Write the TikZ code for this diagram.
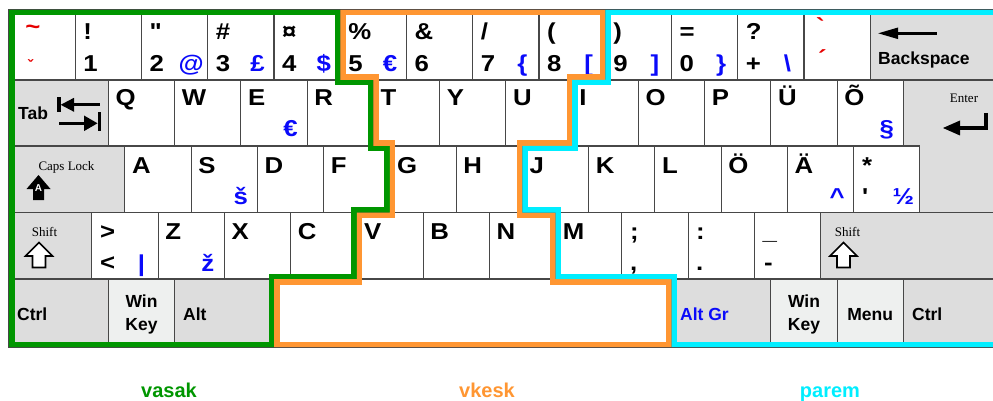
\documentclass[tikz,border=0pt]{standalone}
\usepackage{fontspec}
\setmainfont{Liberation Sans}
\newfontfamily\keyfam{Liberation Sans}[FakeStretch=1.12]
\newfontfamily\serfam{Liberation Serif}
\newcommand\keyfont{\keyfam\bfseries\fontsize{23}{23}\selectfont}
\newcommand\modfont{\bfseries\fontsize{17.5}{18}\selectfont}
\newcommand\serfont{\serfam\fontsize{13}{13}\selectfont}
\newcommand\regfont{\bfseries\fontsize{20}{20}\selectfont}
\definecolor{kgray}{RGB}{221,221,221}
\definecolor{klight}{RGB}{238,240,239}
\definecolor{altblue}{RGB}{10,10,250}
\definecolor{deadred}{RGB}{230,0,0}
\definecolor{vgreen}{RGB}{0,150,0}
\definecolor{vorange}{RGB}{255,150,50}
\definecolor{vcyan}{RGB}{0,238,255}
\begin{document}
\begin{tikzpicture}[x=1pt,y=-1pt,
  keyedge/.style={draw=black!72,line width=1.1pt},
  up/.style={inner sep=0pt,font=\keyfont,anchor=base west},
  alt/.style={inner sep=0pt,font=\keyfont,text=altblue,anchor=base},
  dead/.style={inner sep=0pt,font=\keyfont,text=deadred,anchor=center},
  mod/.style={inner sep=0pt,font=\modfont,anchor=base west},
  modc/.style={inner sep=0pt,font=\modfont,anchor=base},
  ser/.style={inner sep=0pt,font=\serfont,anchor=base},
  region/.style={inner sep=0pt,font=\regfont,anchor=base},
  icon/.style={line width=3.4pt,line cap=butt},
  hollow/.style={draw=black,line width=1.6pt,fill=white,line join=miter}]
\useasboundingbox (0,0) rectangle (993,401);
\fill[white] (0,0) rectangle (993,401);

% ---------- keys ----------
% row 1
\foreach \i in {0,...,12}
  \draw[keyedge,fill=white] ({9+66.25*\i},10) rectangle ({9+66.25*(\i+1)},80);
\draw[keyedge,fill=kgray] (870.25,10) rectangle (1005,80);
% row 2
\draw[keyedge,fill=kgray] (9,80) rectangle (108.4,146);
\foreach \i in {0,...,11}
  \draw[keyedge,fill=white] ({108.4+66.25*\i},80) rectangle ({108.4+66.25*(\i+1)},146);
\draw[keyedge,fill=kgray] (903.4,80) -- (1005,80) -- (1005,212.5) -- (919.9,212.5) -- (919.9,146) -- (903.4,146) -- cycle;
% row 3
\draw[keyedge,fill=kgray] (9,146) rectangle (124.9,212.5);
\foreach \i in {0,...,11}
  \draw[keyedge,fill=white] ({124.9+66.25*\i},146) rectangle ({124.9+66.25*(\i+1)},212.5);
% row 4
\draw[keyedge,fill=kgray] (9,212.5) rectangle (91.8,279);
\foreach \i in {0,...,10}
  \draw[keyedge,fill=white] ({91.8+66.25*\i},212.5) rectangle ({91.8+66.25*(\i+1)},279);
\draw[keyedge,fill=kgray] (820.55,212.5) rectangle (1005,279);
% row 5
\draw[keyedge,fill=kgray] (9,279) rectangle (108.4,347);
\draw[keyedge,fill=klight] (108.4,279) rectangle (174.6,347);
\draw[keyedge,fill=kgray] (174.6,279) rectangle (274,347);
\draw[keyedge,fill=white] (274,279) rectangle (671.5,347);
\draw[keyedge,fill=kgray] (671.5,279) rectangle (770.9,347);
\draw[keyedge,fill=klight] (770.9,279) rectangle (837.1,347);
\draw[keyedge,fill=klight] (837.1,279) rectangle (903.4,347);
\draw[keyedge,fill=kgray] (903.4,279) rectangle (1005,347);

% ---------- row 1 labels ----------
\node[dead] (tilde) at (33,30) {\textasciitilde};
\node[dead,font=\bfseries\fontsize{16}{16}\selectfont] (caron) at (30.5,66) {ˇ};
\node[up] (excl) at (83.25,40) {!};      \node[up] (one) at (83.25,72) {1};
\node[up] (quot) at (149.5,40) {"};      \node[up] (two) at (149.5,72) {2};   \node[alt] (at) at (191.25,72) {@};
\node[up] (hash) at (215.75,40) {\#};    \node[up] (three) at (215.75,72) {3}; \node[alt] (pound) at (257.5,72) {£};
\node[up] (curr) at (282,40) {¤};        \node[up] (four) at (282,72) {4};    \node[alt] (dollar) at (323.75,72) {\$};
\node[up] (perc) at (348.25,40) {\%};    \node[up] (five) at (348.25,72) {5}; \node[alt] (euro) at (390,72) {€};
\node[up] (amp) at (414.5,40) {\&};      \node[up] (six) at (414.5,72) {6};
\node[up] (slash) at (480.75,40) {/};    \node[up] (seven) at (480.75,72) {7}; \node[alt] (lbrace) at (522.5,72) {\{};
\node[up] (lpar) at (547,40) {(};        \node[up] (eight) at (547,72) {8};   \node[alt] (lbrack) at (588.75,72) {[};
\node[up] (rpar) at (613.25,40) {)};     \node[up] (nine) at (613.25,72) {9}; \node[alt] (rbrack) at (655,72) {]};
\node[up] (equal) at (679.5,40) {=};     \node[up] (zero) at (679.5,72) {0};  \node[alt] (rbrace) at (721.25,72) {\}};
\node[up] (quest) at (745.75,40) {?};    \node[up] (plus) at (745.75,72) {+}; \node[alt] (bslash) at (787.5,72) {\textbackslash};
\node[dead] (grave) at (820,26) {\textasciigrave};
\node[dead] (acute) at (822.5,58) {´};
\node[mod] (bksp) at (878,65) {Backspace};
\fill (878.3,33.3) -- (898,27.5) -- (898,39.1) -- cycle;
\draw[icon] (897,33.3) -- (936.7,33.3);

% ---------- row 2 labels ----------
\node[mod] (tab) at (18,120) {Tab};
\fill (57.3,96.7) rectangle (60.7,112);
\fill (60.7,104.8) -- (74,97.8) -- (74,111.8) -- cycle;
\draw[icon] (73,104.8) -- (100,104.8);
\draw[icon] (59.3,123.3) -- (85,123.3);
\fill (84,115.5) -- (97.5,123.3) -- (84,131.1) -- cycle;
\fill (97.5,112) rectangle (101.2,131.5);
\node[up] (kQ) at (115.4,106) {Q};
\node[up] (kW) at (181.6,106) {W};
\node[up] (kE) at (247.9,106) {E};  \node[alt] (keuro) at (290.6,137) {€};
\node[up] (kR) at (314.1,106) {R};
\node[up] (kT) at (380.4,106) {T};
\node[up] (kY) at (446.6,106) {Y};
\node[up] (kU) at (512.9,106) {U};
\node[up] (kI) at (579.1,106) {I};
\node[up] (kO) at (645.4,106) {O};
\node[up] (kP) at (711.6,106) {P};
\node[up] (kUe) at (777.9,106) {Ü};
\node[up] (kOt) at (844.1,106) {Õ};  \node[alt] (sect) at (886.9,137) {§};
\node[ser] (enter) at (964,103) {Enter};
\draw[icon,line join=miter] (986,113) -- (986,128) -- (959,128);
\fill (943,128) -- (960,120.5) -- (960,135.5) -- cycle;

% ---------- row 3 labels ----------
\node[ser] (caps) at (66.5,171) {Caps Lock};
\fill (38.5,175) -- (50.5,189) -- (44,189) -- (44,200) -- (33,200) -- (33,189) -- (26.5,189) -- cycle;
\node[inner sep=0pt,text=white,font=\bfseries\fontsize{10}{10}\selectfont] (capsA) at (38.5,188) {A};
\node[up] (kA) at (131.9,173) {A};
\node[up] (kS) at (198.2,173) {S};  \node[alt] (scaron) at (240.9,204) {š};
\node[up] (kD) at (264.4,173) {D};
\node[up] (kF) at (330.7,173) {F};
\node[up] (kG) at (396.9,173) {G};
\node[up] (kH) at (463.2,173) {H};
\node[up] (kJ) at (529.4,173) {J};
\node[up] (kK) at (595.7,173) {K};
\node[up] (kL) at (661.9,173) {L};
\node[up] (kOe) at (728.2,173) {Ö};
\node[up] (kAe) at (794.4,173) {Ä};  \node[alt] (circ) at (837.2,204) {\textasciicircum};
\node[up] (ast) at (862,173) {*};
\node[up] (apos) at (862,204) {\textquotesingle};
\node[alt] (half) at (903.4,204) {½};

% ---------- row 4 labels ----------
\node[ser] (lshift) at (44.5,236) {Shift};
\draw[hollow] (39,242.5) -- (52.5,256) -- (45.5,256) -- (45.5,267.5) -- (32.5,267.5) -- (32.5,256) -- (25.5,256) -- cycle;
\node[up] (gt) at (99.8,239) {>};
\node[up] (lt) at (99.8,270) {<};    \node[alt] (bar) at (141.6,271) {|};
\node[up] (kZ) at (165.1,239) {Z};   \node[alt] (zcaron) at (207.9,271) {ž};
\node[up] (kX) at (231.4,239) {X};
\node[up] (kC) at (297.6,239) {C};
\node[up] (kV) at (363.9,239) {V};
\node[up] (kB) at (430.1,239) {B};
\node[up] (kN) at (496.4,239) {N};
\node[up] (kM) at (562.6,239) {M};
\node[up] (semi) at (630,239) {;};    \node[up] (comma) at (630,270) {,};
\node[up] (colon) at (696,239) {:};   \node[up] (period) at (696,270) {.};
\node[up] (under) at (762.4,239) {\_}; \node[up] (minus) at (764,270) {-};
\node[ser] (rshift) at (847.5,236) {Shift};
\draw[hollow] (843.5,242.5) -- (857,256) -- (850,256) -- (850,267.5) -- (837,267.5) -- (837,256) -- (830,256) -- cycle;

% ---------- row 5 labels ----------
\node[mod] (lctrl) at (17,320) {Ctrl};
\node[modc] (lwin1) at (141.5,307) {Win};
\node[modc] (lwin2) at (141.5,330) {Key};
\node[mod] (lalt) at (183,320) {Alt};
\node[mod,text=altblue] (altgr) at (680,320) {Alt Gr};
\node[modc] (rwin1) at (804,307) {Win};
\node[modc] (rwin2) at (804,330) {Key};
\node[modc] (menu) at (870.25,320) {Menu};
\node[mod] (rctrl) at (912,320) {Ctrl};

% ---------- region outlines ----------
\def\greenpath{(9,10) -- (340.25,10) -- (340.25,80) -- (373.4,80) -- (373.4,146) -- (389.9,146) -- (389.9,212.5) -- (356.9,212.5) -- (356.9,279) -- (274,279) -- (274,347) -- (9,347) -- cycle}
\def\orangepath{(340.25,10) -- (605.25,10) -- (605.25,80) -- (572.1,80) -- (572.1,146) -- (522.4,146) -- (522.4,212.5) -- (555.6,212.5) -- (555.6,279) -- (671.5,279) -- (671.5,347) -- (274,347) -- (274,279) -- (356.9,279) -- (356.9,212.5) -- (389.9,212.5) -- (389.9,146) -- (373.4,146) -- (373.4,80) -- (340.25,80) -- cycle}
\def\cyanpath{(605.25,10) -- (1015,10) -- (1015,347) -- (671.5,347) -- (671.5,279) -- (555.6,279) -- (555.6,212.5) -- (522.4,212.5) -- (522.4,146) -- (572.1,146) -- (572.1,80) -- (605.25,80) -- cycle}
\begin{scope}
  \clip \greenpath;
  \draw[vgreen,line width=11pt] \greenpath;
\end{scope}
\begin{scope}
  \clip \orangepath;
  \draw[vorange,line width=11pt] \orangepath;
\end{scope}
\begin{scope}
  \clip \cyanpath;
  \draw[vcyan,line width=11pt] \cyanpath;
\end{scope}

% ---------- region names ----------
\node[region,text=vgreen] (vasak) at (169,397.5) {vasak};
\node[region,text=vorange] (vkesk) at (487,397.5) {vkesk};
\node[region,text=vcyan] (parem) at (830,397.5) {parem};
\end{tikzpicture}
\end{document}
